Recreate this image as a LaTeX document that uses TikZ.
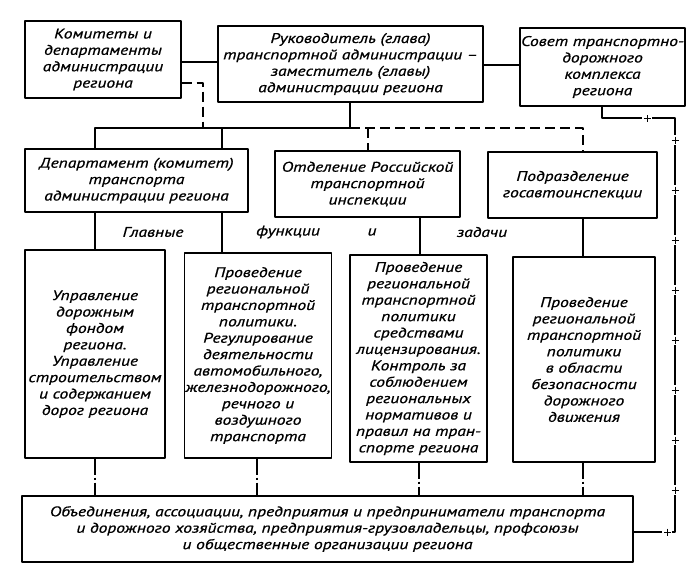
\documentclass[tikz,border=0pt]{standalone}
\usepackage{fontspec}
\setmainfont{PT Sans}[ItalicFeatures={FakeStretch=1.25, FakeBold=0.8}]
\usetikzlibrary{decorations.markings}
\tikzset{
  box/.style={draw, line width=1.3pt, align=center, inner sep=1pt, font=\itshape\fontsize{14}{16.4}\selectfont},
  conn/.style={line width=1.8pt},
  dsh/.style={line width=1.6pt, dash pattern=on 10pt off 5pt},
  dshdot/.style={line width=1.6pt, dash pattern=on 16pt off 3pt on 2pt off 3pt},
  plusline/.style={line width=1.4pt, dash pattern=on 40pt off 10pt,
    postaction={decorate, decoration={markings,
      mark=between positions 45pt and 1 step 50pt with {\draw[line width=1pt, solid] (-3.5pt,0)--(3.5pt,0) (0,-3.5pt)--(0,3.5pt);}}}},
  lbl/.style={font=\itshape\fontsize{14}{16}\selectfont}
}
\begin{document}
\begin{tikzpicture}[x=1pt, y=-1pt, line join=round]
\useasboundingbox (0,0) rectangle (696,584);
\node[box, minimum width=156pt, minimum height=77pt] (kom) at (103,59.5) {Комитеты и\\департаменты\\администрации\\региона};
\node[box, minimum width=265pt, minimum height=76pt] (ruk) at (350.5,64) {Руководитель (глава)\\транспортной администрации --\\заместитель (главы)\\администрации региона};
\node[box, minimum width=159pt, minimum height=78pt] (sov) at (602.5,67) {Совет транспортно-\\дорожного\\комплекса\\региона};
\node[box, minimum width=223pt, minimum height=63pt] (dep) at (136.5,180.5) {Департамент (комитет)\\транспорта\\администрации региона};
\node[box, minimum width=185pt, minimum height=66pt] (otd) at (367.5,184) {Отделение Российской\\транспортной\\инспекции};
\node[box, minimum width=169pt, minimum height=66pt] (pod) at (572.5,185) {Подразделение\\госавтоинспекции};
\node[box, minimum width=140pt, minimum height=208pt] (fa) at (95,354) {Управление\\дорожным\\фондом\\региона.\\Управление\\строительством\\и содержанием\\дорог региона};
\node[box, minimum width=140pt, minimum height=205pt] (fb) at (258,355.5) {Проведение\\региональной\\транспортной\\политики.\\Регулирование\\деятельности\\автомобильного,\\железнодорожного,\\речного и\\воздушного\\транспорта};
\node[box, minimum width=137pt, minimum height=207pt] (fc) at (418.5,358.5) {Проведение\\региональной\\транспортной\\политики\\средствами\\лицензирования.\\Контроль за\\соблюдением\\региональных\\нормативов и\\правил на тран-\\спорте региона};
\node[box, minimum width=142pt, minimum height=205pt] (fd) at (584,359.5) {Проведение\\региональной\\транспортной\\политики\\в области\\безопасности\\дорожного\\движения};
\node[box, minimum width=611pt, minimum height=66pt] (obj) at (327.5,529) {Объединения, ассоциации, предприятия и предприниматели транспорта\\и дорожного хозяйства, предприятия-грузовладельцы, профсоюзы\\и общественные организации региона};
\node[lbl] (glav) at (153,232) {Главные};
\node[lbl] (funk) at (288,232) {функции};
\node[lbl] (iii) at (372,232) {и};
\node[lbl] (zad) at (482,232) {задачи};
\coordinate (bus) at (350,128);
\coordinate (rc) at (675,118);
\draw[conn] (kom.east |- 0,62) -- (ruk.west |- 0,62);
\draw[conn] (ruk.east |- 0,65) -- (sov.west |- 0,65);
\draw[dsh] (kom.east |- 0,83) -- (203,83) -- (203,128);
\draw[conn] (ruk.south -| bus) -- (bus) -- (95,128) -- (dep.north -| 95,0);
\draw[conn] (222,128) -- (dep.north -| 222,0);
\draw[dsh] (bus) -- (583,128) -- (pod.north -| 583,0);
\draw[dsh] (368,128) -- (otd.north -| 368,0);
\draw[conn] (dep.south -| 95,0) -- (fa.north -| 95,0);
\draw[conn] (dep.south -| 222,0) -- (fb.north -| 222,0);
\draw[conn] (otd.south -| 420,0) -- (fc.north -| 420,0);
\draw[conn] (pod.south -| 583,0) -- (fd.north -| 583,0);
\draw[dshdot] (fa.south -| 95,0) -- (obj.north -| 95,0);
\draw[dshdot] (fb.south -| 257,0) -- (obj.north -| 257,0);
\draw[dshdot] (fc.south -| 419,0) -- (obj.north -| 419,0);
\draw[dshdot] (fd.south -| 583,0) -- (obj.north -| 583,0);
\draw[line width=1.4pt] (sov.south -| 602,0) -- (602,118) -- (612,118);
\draw[plusline] (602,118) -- (rc) -- (rc |- 0,532) -- (obj.east |- 0,532);
\end{tikzpicture}
\end{document}
